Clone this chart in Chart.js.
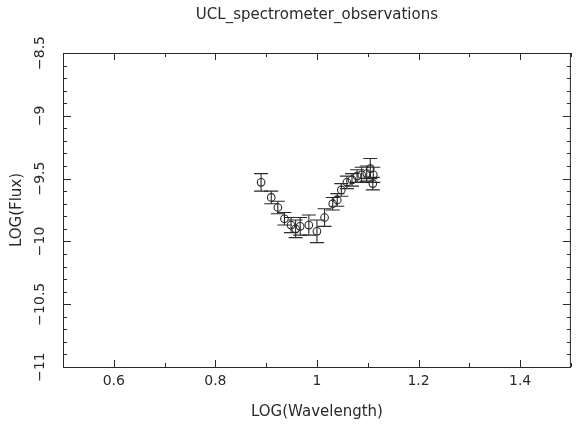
<!DOCTYPE html>
<html>
<head>
<meta charset="utf-8">
<script src="https://cdn.jsdelivr.net/npm/chart.js@4/dist/chart.umd.min.js"></script>
<style>html,body{margin:0;padding:0;background:#fff}</style>
</head>
<body>
<canvas id="c" width="576" height="427"></canvas>
<script>
const logWavelength = [0.890, 0.910, 0.923, 0.936, 0.949, 0.958, 0.967, 0.984, 1.000, 1.015, 1.031, 1.040, 1.048, 1.059, 1.069, 1.079, 1.088, 1.098, 1.105, 1.111, 1.110]
const logFlux       = [-9.53, -9.65, -9.73, -9.82, -9.87, -9.90, -9.88, -9.87, -9.92, -9.81, -9.70, -9.67, -9.59, -9.53, -9.51, -9.48, -9.47, -9.46, -9.42, -9.47, -9.54]
const fluxErr       = [0.07, 0.05, 0.05, 0.05, 0.06, 0.07, 0.07, 0.08, 0.09, 0.07, 0.05, 0.05, 0.05, 0.05, 0.05, 0.05, 0.06, 0.06, 0.08, 0.06, 0.05]

const xTickLabels = [0.6, 0.8, 1, 1.2, 1.4]
const yTickLabels = [-8.5, -9, -9.5, -10, -10.5, -11]

const TITLE  = 'UCL_spectrometer_observations'
const XTITLE = 'LOG(Wavelength)'
const YTITLE = 'LOG(Flux)'

const INK  = '#2a2a2a'
const TICK_FONT  = '14px "DejaVu Sans"'
const TITLE_FONT = '15px "DejaVu Sans"'

const fmt = v => String(v).replace('-', '\u2212')

// error bars: vertical line + caps
const errorBars = {
  id: 'errorBars',
  afterDatasetsDraw(chart) {
    const { ctx, scales: { x, y } } = chart
    ctx.save()
    ctx.strokeStyle = INK
    ctx.lineWidth = 1.1
    logWavelength.forEach((wl, i) => {
      const px = x.getPixelForValue(wl)
      const top = y.getPixelForValue(logFlux[i] + fluxErr[i])
      const bot = y.getPixelForValue(logFlux[i] - fluxErr[i])
      ctx.beginPath()
      ctx.moveTo(px, top); ctx.lineTo(px, bot)
      ctx.moveTo(px - 7, top); ctx.lineTo(px + 7, top)
      ctx.moveTo(px - 7, bot); ctx.lineTo(px + 7, bot)
      ctx.stroke()
    })
    ctx.restore()
  }
}

// frame, inward ticks, labels, titles
const frame = {
  id: 'frame',
  afterDraw(chart) {
    const { ctx, chartArea: a, scales: { x, y } } = chart
    ctx.save()
    ctx.strokeStyle = INK
    ctx.lineWidth = 1
    ctx.strokeRect(a.left + 0.5, a.top + 0.5, a.right - a.left - 1, a.bottom - a.top)

    ctx.beginPath()
    // x ticks every 0.1
    for (let k = 5; k <= 15; k++) {
      const px = Math.round(x.getPixelForValue(k / 10)) + 0.5
      const len = k % 2 === 0 ? 7 : 4
      ctx.moveTo(px, a.bottom); ctx.lineTo(px, a.bottom - len)
      ctx.moveTo(px, a.top); ctx.lineTo(px, a.top + len)
    }
    // y ticks every 0.1
    for (let k = 85; k <= 110; k++) {
      const py = Math.round(y.getPixelForValue(-k / 10)) + 0.5
      const len = k % 5 === 0 ? 8 : 4
      ctx.moveTo(a.left, py); ctx.lineTo(a.left + len, py)
      ctx.moveTo(a.right, py); ctx.lineTo(a.right - len, py)
    }
    ctx.stroke()

    ctx.fillStyle = INK
    ctx.textAlign = 'center'
    ctx.textBaseline = 'middle'
    ctx.font = TICK_FONT
    xTickLabels.forEach(v => ctx.fillText(fmt(v), x.getPixelForValue(v), 381))
    yTickLabels.forEach(v => {
      ctx.save()
      ctx.translate(40, y.getPixelForValue(v))
      ctx.rotate(-Math.PI / 2)
      ctx.fillText(fmt(v), 0, 0)
      ctx.restore()
    })

    ctx.font = TITLE_FONT
    ctx.fillText(XTITLE, (a.left + a.right) / 2, 412)
    ctx.fillText(TITLE, (a.left + a.right) / 2, 15)
    ctx.save()
    ctx.translate(17, (a.top + a.bottom) / 2)
    ctx.rotate(-Math.PI / 2)
    ctx.fillText(YTITLE, 0, 0)
    ctx.restore()
    ctx.restore()
  }
}

new Chart(document.getElementById('c'), {
  type: 'scatter',
  data: {
    datasets: [{
      data: logWavelength.map((wl, i) => ({ x: wl, y: logFlux[i] })),
      showLine: false,
      pointStyle: 'circle',
      pointRadius: 3.8,
      borderColor: INK,
      backgroundColor: 'rgba(255,255,255,0)',
      borderWidth: 1.1,
    }],
  },
  options: {
    responsive: false,
    animation: false,
    devicePixelRatio: 1,
    layout: { padding: { left: 63, right: 1, top: 53, bottom: 60 } },
    plugins: { legend: { display: false }, tooltip: { enabled: false }, title: { display: false } },
    scales: {
      x: {
        type: 'linear', min: 0.5, max: 1.5,
        grid: { display: false, drawTicks: false },
        border: { display: false },
        ticks: { display: false },
      },
      y: {
        type: 'linear', min: -11, max: -8.5,
        grid: { display: false, drawTicks: false },
        border: { display: false },
        ticks: { display: false },
      },
    },
  },
  plugins: [errorBars, frame],
})
</script>
</body>
</html>
